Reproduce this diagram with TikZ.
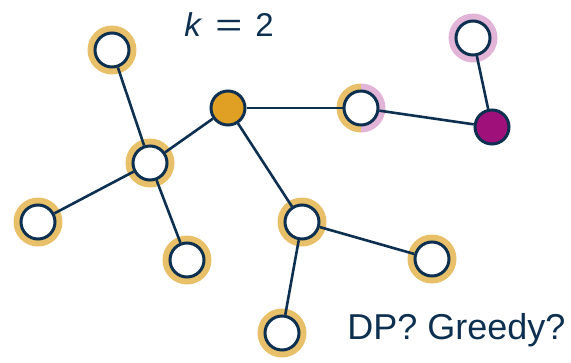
\documentclass[tikz,border=0pt]{standalone}
\usepackage{fontspec}
\usepackage{graphicx}
\setmainfont{Liberation Sans}
\setsansfont{Liberation Sans}
\definecolor{ink}{HTML}{0E3050}
\definecolor{gold}{HTML}{E8C06A}
\definecolor{goldfill}{HTML}{E0A024}
\definecolor{lilac}{HTML}{E2B4D8}
\definecolor{plum}{HTML}{A0107A}
\begin{document}
\begin{tikzpicture}[x=1pt,y=-1pt,
  vert/.style={circle,draw=ink,line width=3pt,fill=white,minimum size=34pt,inner sep=0pt},
  ringgold/.style={circle,fill=gold,minimum size=49pt,inner sep=0pt},
  ringlilac/.style={circle,fill=lilac,minimum size=49pt,inner sep=0pt},
  edge/.style={draw=ink,line width=2.6pt}]
\useasboundingbox (0,0) rectangle (571,362);
% rings behind the vertices
\foreach \p in {(112,50),(150,163),(38,222),(187,260),(302,222),(432,259),(282,333)}
  \node[ringgold] at \p {};
\node[ringlilac] at (473,38) {};
\fill[gold] (361,108) ++(90:24.5) arc (90:270:24.5) -- cycle;
\fill[lilac] (361,108) ++(-90:24.5) arc (-90:90:24.5) -- cycle;
% vertices
\node[vert] (a) at (112,50) {};
\node[vert] (b) at (150,163) {};
\node[vert,fill=goldfill] (c) at (228,108) {};
\node[vert] (d) at (361,108) {};
\node[vert] (e) at (473,38) {};
\node[vert,fill=plum] (f) at (492,127) {};
\node[vert] (g) at (38,222) {};
\node[vert] (h) at (187,260) {};
\node[vert] (i) at (302,222) {};
\node[vert] (j) at (432,259) {};
\node[vert] (l) at (282,333) {};
% edges
\foreach \u/\v in {a/b,b/c,b/g,b/h,c/d,c/i,d/f,f/e,i/j,i/l}
  \path[edge] (\u) -- (\v);
% labels
\node[text=ink,font=\fontsize{33}{36}\selectfont] (k) at (229,25)
  {\textit{k}\hspace{13pt}\scalebox{1.4}[1]{=}\hspace{13pt}2};
\node[text=ink,font=\fontsize{36}{40}\selectfont,anchor=east] (q) at (569,330) {DP? Greedy?};
\end{tikzpicture}
\end{document}
